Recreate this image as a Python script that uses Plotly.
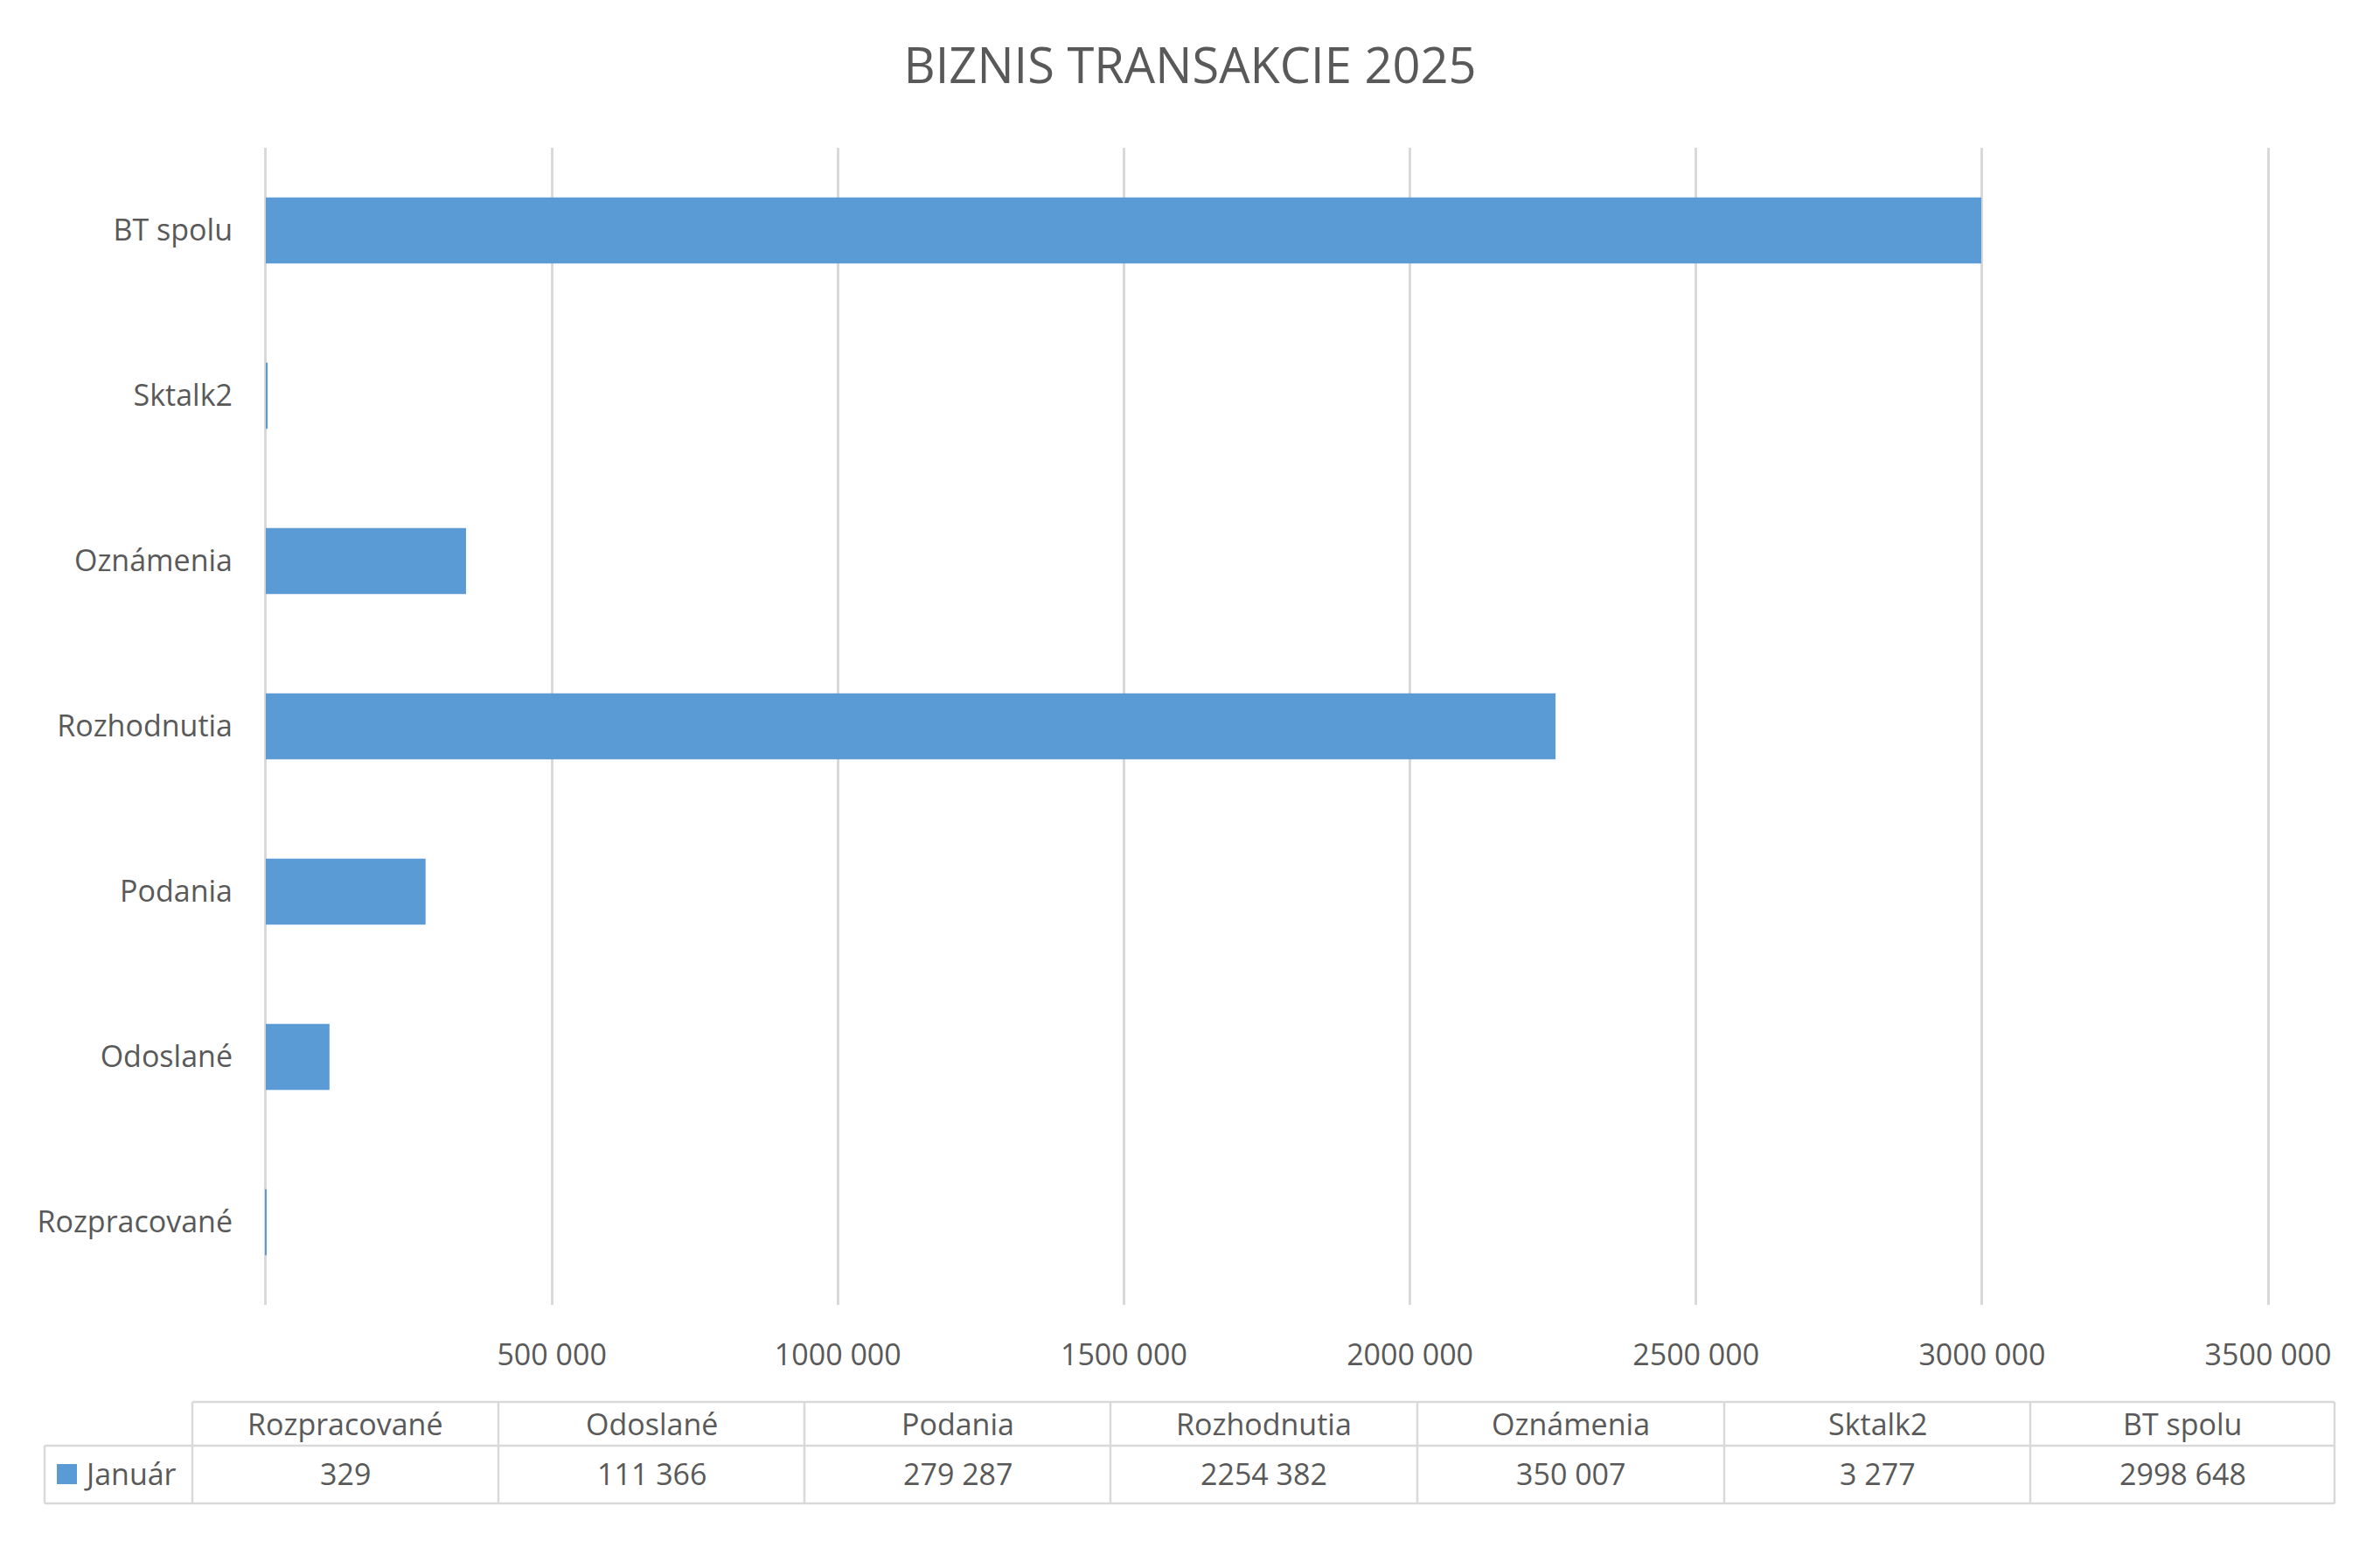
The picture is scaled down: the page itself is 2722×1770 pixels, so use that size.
import plotly.graph_objects as go

categories = ["Rozpracované", "Odoslané", "Podania", "Rozhodnutia", "Oznámenia", "Sktalk2", "BT spolu"]
values_januar = [329, 111366, 279287, 2254382, 350007, 3277, 2998648]
series_name = "Január"
title_text = "BIZNIS TRANSAKCIE 2025"
tick_values = [0, 500000, 1000000, 1500000, 2000000, 2500000, 3000000, 3500000]

BAR = "#5b9bd5"
TXT = "#595959"
GRID = "#d9d9d9"
FONT = "Open Sans"

W, H = 2722, 1770
PL, PR = 302, 2596   # plot area pixels (range padded slightly so edge gridlines show)
PT, PB = 169, 1492
XMIN, XMAX = -3000, 3503000


def fmt(v):
    if v >= 1000:
        return f"{v // 1000} {v % 1000:03d}"
    return str(v)


tick_text = ["" if v == 0 else fmt(v) for v in tick_values]


def px(x):
    return (x - PL) / (PR - PL)


def py(y):
    return (PB - y) / (PB - PT)


fig = go.Figure()
fig.add_trace(go.Bar(
    y=categories, x=values_januar, orientation="h", name=series_name,
    marker=dict(color=BAR, line=dict(width=0)), showlegend=False,
))

shapes = []
annotations = []

# table geometry (pixels)
col_edges = [220, 570, 920, 1270, 1621, 1972, 2322, 2670]
leg_left = 51
t_top, t_mid, t_bot = 1603, 1653, 1719
line = dict(color=GRID, width=2.5)

shapes.append(dict(type="line", xref="paper", yref="paper", x0=px(col_edges[0]), x1=px(col_edges[-1]),
                   y0=py(t_top), y1=py(t_top), line=line))
for yy in (t_mid, t_bot):
    shapes.append(dict(type="line", xref="paper", yref="paper", x0=px(leg_left), x1=px(col_edges[-1]),
                       y0=py(yy), y1=py(yy), line=line))
for xx in col_edges:
    shapes.append(dict(type="line", xref="paper", yref="paper", x0=px(xx), x1=px(xx),
                       y0=py(t_top), y1=py(t_bot), line=line))
shapes.append(dict(type="line", xref="paper", yref="paper", x0=px(leg_left), x1=px(leg_left),
                   y0=py(t_mid), y1=py(t_bot), line=line))
# legend key
shapes.append(dict(type="rect", xref="paper", yref="paper", x0=px(65), x1=px(88),
                   y0=py(1697), y1=py(1674), fillcolor=BAR, line=dict(width=0)))

tfont = dict(family=FONT, size=34, color=TXT)
for i, (cat, val) in enumerate(zip(categories, values_januar)):
    cx = (col_edges[i] + col_edges[i + 1]) / 2
    annotations.append(dict(x=px(cx), y=py(1628), xref="paper", yref="paper", text=cat,
                            showarrow=False, xanchor="center", yanchor="middle", font=tfont))
    annotations.append(dict(x=px(cx), y=py(1685), xref="paper", yref="paper", text=fmt(val),
                            showarrow=False, xanchor="center", yanchor="middle", font=tfont))
annotations.append(dict(x=px(94), y=py(1685), xref="paper", yref="paper", text=series_name,
                        showarrow=False, xanchor="left", yanchor="middle", font=tfont))

fig.update_layout(
    width=W, height=H, autosize=False,
    margin=dict(l=PL, r=W - PR, t=PT, b=H - PB, pad=0),
    paper_bgcolor="white", plot_bgcolor="white",
    title=dict(text=title_text, x=0.5, xanchor="center", y=1 - 75 / H, yanchor="middle",
               font=dict(family=FONT, size=56, color=TXT)),
    bargap=0.6,
    font=dict(family=FONT, size=34, color=TXT),
    xaxis=dict(range=[XMIN, XMAX], tickvals=tick_values, ticktext=tick_text,
               showgrid=True, gridcolor=GRID, gridwidth=2.5, zeroline=False,
               showline=False, ticks="", ticklabelstandoff=34,
               tickfont=dict(family=FONT, size=34, color=TXT), fixedrange=True),
    yaxis=dict(showgrid=False, zeroline=False, showline=False, ticks="",
               ticklabelstandoff=35, tickfont=dict(family=FONT, size=34, color=TXT)),
    shapes=shapes, annotations=annotations,
)

fig.write_html("out.html")
